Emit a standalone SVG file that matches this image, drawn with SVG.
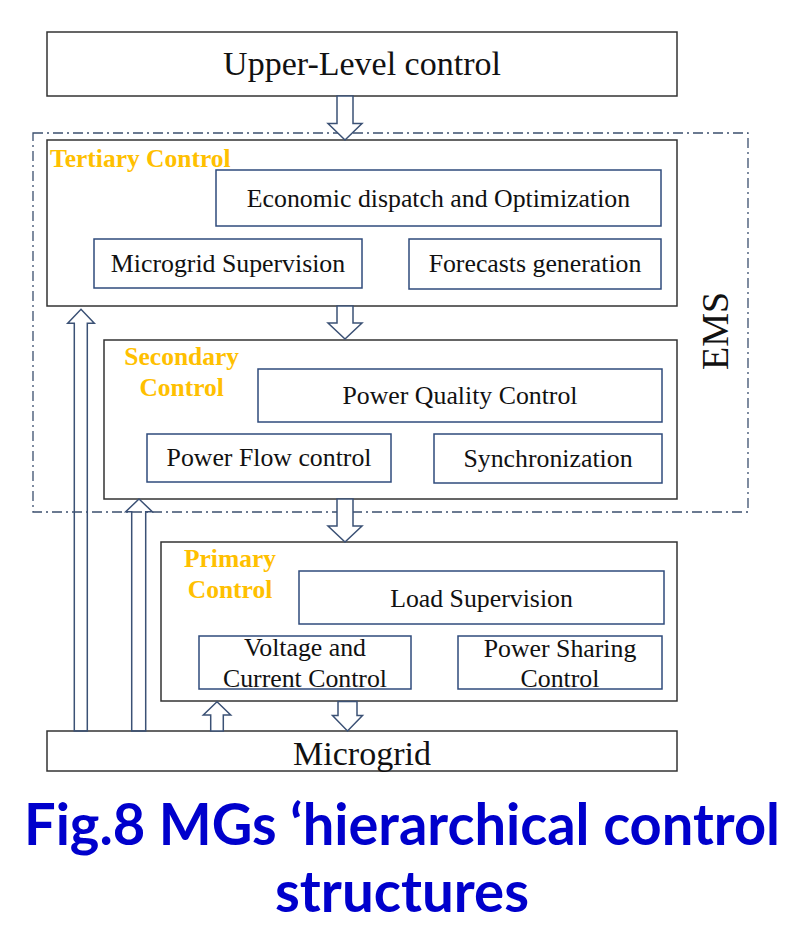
<svg xmlns="http://www.w3.org/2000/svg" width="790" height="930" viewBox="0 0 790 930">
<style>
.outer{fill:#fff;stroke:#333;stroke-width:1.5}
.inner{fill:#fff;stroke:#2f4b7c;stroke-width:1.5}
.t{font-family:"Liberation Serif","Times New Roman",serif;fill:#111;text-anchor:middle}
.big{font-size:34px}
.mid{font-size:25.8px}
.lvl{font-family:"Liberation Serif","Times New Roman",serif;font-weight:bold;font-size:25.5px;fill:#ffc000}
.arrow{fill:#fff;stroke:#3b5175;stroke-width:1.5;stroke-linejoin:miter}
.arrowO{fill:none;stroke:#3b5175;stroke-width:1.5}
.ems{fill:none;stroke:#3b4f6e;stroke-width:1.3;stroke-dasharray:10 4 2 4}
.cap{font-family:Lato,"Open Sans",sans-serif;font-weight:bold;font-size:58px;fill:#0000cc;text-anchor:middle}
</style>
<rect width="790" height="930" fill="#fff"/>
<g id="ems">
<rect class="ems" x="33" y="133" width="715" height="379"/>
<text class="t" font-size="38" transform="translate(728 331) rotate(-90)">EMS</text>
</g>
<g id="upper">
<rect class="outer" x="47" y="32" width="630" height="64"/>
<text class="t big" x="362" y="75">Upper-Level control</text>
</g>
<g id="tertiary">
<rect class="outer" x="47" y="140" width="630" height="166"/>
<text class="lvl" x="50" y="167">Tertiary Control</text>
</g>
<g id="economic">
<rect class="inner" x="216" y="170" width="445" height="56"/>
<text class="t mid" x="438.5" y="207">Economic dispatch and Optimization</text>
</g>
<g id="supervision">
<rect class="inner" x="94" y="239" width="268" height="49"/>
<text class="t mid" x="228" y="272">Microgrid Supervision</text>
</g>
<g id="forecasts">
<rect class="inner" x="409" y="239" width="252" height="50"/>
<text class="t mid" x="535" y="272">Forecasts generation</text>
</g>
<g id="secondary">
<rect class="outer" x="104" y="340" width="573" height="159"/>
<text class="lvl" x="181.7" y="365" text-anchor="middle">Secondary</text>
<text class="lvl" x="181.7" y="396" text-anchor="middle">Control</text>
</g>
<g id="pqc">
<rect class="inner" x="258" y="369" width="404" height="53"/>
<text class="t mid" x="460" y="404">Power Quality Control</text>
</g>
<g id="pfc">
<rect class="inner" x="147" y="434" width="244" height="48"/>
<text class="t mid" x="269" y="466">Power Flow control</text>
</g>
<g id="sync">
<rect class="inner" x="434" y="434" width="228" height="49"/>
<text class="t mid" x="548" y="467">Synchronization</text>
</g>
<g id="primary">
<rect class="outer" x="161" y="542" width="516" height="159"/>
<text class="lvl" x="230" y="567" text-anchor="middle">Primary</text>
<text class="lvl" x="230" y="597.5" text-anchor="middle">Control</text>
</g>
<g id="load">
<rect class="inner" x="299" y="571" width="365" height="53"/>
<text class="t mid" x="481.5" y="607">Load Supervision</text>
</g>
<g id="vcc">
<rect class="inner" x="199" y="636" width="212" height="53"/>
<text class="t mid" x="305" y="656">Voltage and</text>
<text class="t mid" x="305" y="687">Current Control</text>
</g>
<g id="psc">
<rect class="inner" x="458" y="636" width="204" height="53"/>
<text class="t mid" x="560" y="657">Power Sharing</text>
<text class="t mid" x="560" y="687">Control</text>
</g>
<g id="microgrid">
<rect class="outer" x="47" y="731" width="630" height="40"/>
<text class="t big" x="362" y="765">Microgrid</text>
</g>
<g id="connectors">
<polygon class="arrow" points="337,96 353,96 353,123.5 362,123.5 345,140 328,123.5 337,123.5"/>
<polygon class="arrow" points="337,306 353,306 353,323 362,323 345,339 328,323 337,323"/>
<polygon class="arrow" points="337,499 353,499 353,526 362,526 345,542 328,526 337,526"/>
<polygon class="arrow" points="338,701.5 357,701.5 357,715.5 362.5,715.5 347.5,731 332.5,715.5 338,715.5"/>
<polygon class="arrow" points="210.7,731 223.3,731 223.3,715 230.7,715 217,701.7 203.3,715 210.7,715"/>
<polygon class="arrowO" points="74.3,731 87.3,731 87.3,323.3 94.3,323.3 81,309.3 67.7,323.3 74.3,323.3"/>
<polygon class="arrowO" points="131.7,731 145.7,731 145.7,511.7 152.3,511.7 139,499 125.7,511.7 131.7,511.7"/>
</g>
<g id="caption">
<text class="cap" x="402" y="845" textLength="756" lengthAdjust="spacingAndGlyphs">Fig.8 MGs ‘hierarchical control</text>
<text class="cap" x="402" y="912" textLength="254" lengthAdjust="spacingAndGlyphs">structures</text>
</g>
</svg>
